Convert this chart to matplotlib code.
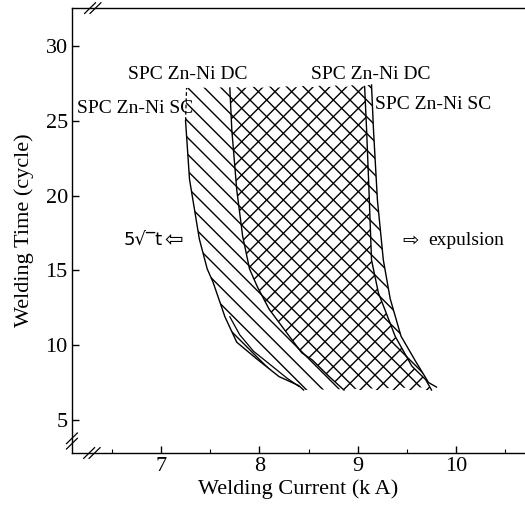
import matplotlib
matplotlib.use('Agg')
import matplotlib.pyplot as plt
import numpy as np

plt.rcParams['font.family'] = ['Liberation Serif', 'DejaVu Sans']
plt.rcParams['hatch.linewidth'] = 1.0

#==========================================================
#    weldability lobes (current kA vs welding time cycle)
#==========================================================

# SPC Zn-Ni SC lower boundary (5 sqrt t nugget)
sc_low_cur = [8.45, 8.40, 8.20, 7.97, 7.77, 7.65, 7.53, 7.47, 7.39, 7.29, 7.25]
sc_low_time = [7.0, 7.3, 7.9, 9.1, 10.2, 11.9, 14.2, 15.1, 17.1, 21.1, 25.0]
# dashed extension of the SC lower boundary
sc_ext_cur = [7.25, 7.26]
sc_ext_time = [25.0, 27.2]
# inner line near the bottom of the SC lobe
sc_in_cur = [7.70, 7.80, 7.94, 8.11, 8.28, 8.40]
sc_in_time = [11.9, 10.7, 9.6, 8.7, 7.8, 7.25]

# SPC Zn-Ni DC lower boundary
dc_low_cur = [8.86, 8.71, 8.54, 8.43, 8.27, 8.10, 7.98, 7.90, 7.83, 7.77, 7.72, 7.70]
dc_low_time = [7.0, 7.9, 9.0, 9.5, 10.9, 12.4, 13.9, 15.1, 17.3, 20.4, 24.4, 27.2]

# SPC Zn-Ni DC upper boundary (expulsion)
dc_up_cur = [9.75, 9.69, 9.55, 9.38, 9.21, 9.14, 9.11, 9.09, 9.07]
dc_up_time = [7.0, 7.7, 8.6, 10.6, 13.5, 15.7, 21.1, 24.4, 27.3]

# SPC Zn-Ni SC upper boundary (expulsion)
sc_up_cur = [9.80, 9.72, 9.59, 9.44, 9.33, 9.26, 9.20, 9.16, 9.14]
sc_up_time = [7.2, 7.5, 8.9, 10.6, 13.1, 15.7, 19.7, 24.4, 27.4]

xticks = [7, 8, 9, 10]
yticks = [5, 10, 15, 20, 25, 30]

fig = plt.figure(figsize=(5.25, 5.07), dpi=100)
ax = fig.add_axes([0.137, 0.1065, 0.863, 0.8775])

# SC lobe : single hatch
px = list(sc_low_cur) + list(sc_ext_cur[1:]) + list(sc_up_cur[::-1])
py = list(sc_low_time) + list(sc_ext_time[1:]) + list(sc_up_time[::-1])
ax.fill(px, py, facecolor='none', edgecolor='black', hatch='\\\\', linewidth=0)

# DC lobe : second hatch -> cross hatched overlap
px = list(dc_low_cur) + list(dc_up_cur[::-1])
py = list(dc_low_time) + list(dc_up_time[::-1])
ax.fill(px, py, facecolor='none', edgecolor='black', hatch='//', linewidth=0)

ax.plot(sc_low_cur, sc_low_time, 'k-', lw=1.0)
ax.plot(sc_ext_cur, sc_ext_time, 'k--', lw=0.9, dashes=(3, 2))
ax.plot(sc_in_cur, sc_in_time, 'k-', lw=0.9)
ax.plot(dc_low_cur, dc_low_time, 'k-', lw=1.0)
ax.plot(dc_up_cur, dc_up_time, 'k-', lw=1.0)
ax.plot(sc_up_cur, sc_up_time, 'k-', lw=1.0)

ax.set_xlim(6.095, 10.70)
ax.set_ylim(2.79, 32.54)

ax.set_xticks(xticks)
ax.set_xticks([6.5, 7.5, 8.5, 9.5, 10.5], minor=True)
ax.set_yticks(yticks)
ax.tick_params(direction='in', labelsize=16, length=5, width=1, pad=3)
ax.tick_params(which='minor', direction='in', length=3, width=0.8)
ax.spines['right'].set_visible(False)
for s in ['left', 'bottom', 'top']:
    ax.spines[s].set_linewidth(1.0)

ax.set_xlabel('Welding Current (k A)', fontsize=16, labelpad=2)
ax.set_ylabel('Welding Time (cycle)', fontsize=16, labelpad=8)

# labels
ax.text(6.67, 28.07, 'SPC Zn-Ni DC', fontsize=14, va='center', ha='left')
ax.text(6.15, 25.8, 'SPC Zn-Ni SC', fontsize=14, va='center', ha='left')
ax.text(8.52, 28.07, 'SPC Zn-Ni DC', fontsize=14, va='center', ha='left')
ax.text(9.18, 26.1, 'SPC Zn-Ni SC', fontsize=14, va='center', ha='left')
ax.text(6.62, 17.07, '5\u221A\u203Et', fontsize=13, va='center', ha='left',
        family=['DejaVu Sans'])
ax.text(7.03, 17.07, '\u21E6', fontsize=16, va='center', ha='left',
        family=['DejaVu Sans'])
ax.text(9.45, 17.0, '\u21E8', fontsize=14, va='center', ha='left',
        family=['DejaVu Sans'])
ax.text(9.72, 17.0, 'expulsion', fontsize=14, va='center', ha='left')

# axis break marks
def brk(x, y, horiz):
    d = 0.012
    for off in (-0.006, 0.006):
        if horiz:
            ax.plot([x - d + off, x + d + off], [y - d, y + d], 'k-', lw=0.9,
                    transform=ax.transAxes, clip_on=False)
        else:
            ax.plot([x - d, x + d], [y - d + off, y + d + off], 'k-', lw=0.9,
                    transform=ax.transAxes, clip_on=False)

ax.plot([0.044 - 0.006, 0.044 + 0.006], [0, 0], color='white', lw=2,
        transform=ax.transAxes, clip_on=False)
brk(0.044, 0, True)
ax.plot([0.046 - 0.006, 0.046 + 0.006], [1, 1], color='white', lw=2,
        transform=ax.transAxes, clip_on=False)
brk(0.046, 1, True)
ax.plot([0, 0], [0.027 - 0.006, 0.027 + 0.006], color='white', lw=2,
        transform=ax.transAxes, clip_on=False)
brk(0, 0.027, False)

plt.savefig('out.png', dpi=100)
